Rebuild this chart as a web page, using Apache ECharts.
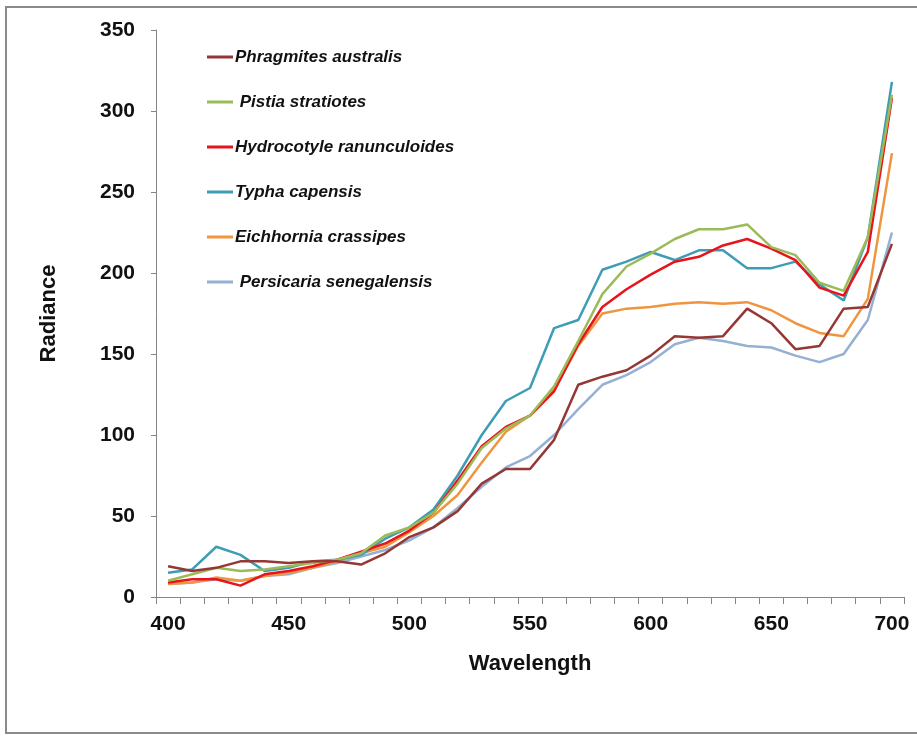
<!DOCTYPE html>
<html>
<head>
<meta charset="utf-8">
<script src="https://cdn.jsdelivr.net/npm/echarts@6/dist/echarts.min.js"></script>
<style>
html,body{margin:0;padding:0;background:#fff;}
#chart{width:917px;height:736px;}
</style>
</head>
<body>
<div id="chart"></div>
<script>
var wavelengths = [400,410,420,430,440,450,460,470,480,490,500,510,520,530,540,550,560,570,580,590,600,610,620,630,640,650,660,670,680,690,700];
var seriesNames = ['Phragmites australis',' Pistia stratiotes','Hydrocotyle ranunculoides','Typha capensis','Eichhornia crassipes',' Persicaria senegalensis'];
var phragmites = [19,16,18,22,22,21,22,22,20,27,37,43,53,70,79,79,97,131,136,140,149,161,160,161,178,169,153,155,178,179,218];
var pistia = [10,14,18,16,17,19,21,23,27,38,43,52,70,92,104,112,130,158,187,204,212,221,227,227,230,216,211,194,189,222,310];
var hydrocotyle = [9,11,11,7,14,16,19,23,28,33,41,52,72,93,105,112,127,156,179,190,199,207,210,217,221,215,208,191,186,213,308];
var typha = [15,17,31,26,16,18,22,23,26,36,43,54,75,100,121,129,166,171,202,207,213,208,214,214,203,203,207,193,183,222,318];
var eichhornia = [8,9,12,10,13,15,18,22,27,31,40,50,63,83,102,112,128,155,175,178,179,181,182,181,182,177,169,163,161,184,274];
var persicaria = [8,9,11,10,13,14,18,21,25,29,35,43,55,68,80,87,100,116,131,137,145,156,160,158,155,154,149,145,150,171,225];
var yTicks = [0,50,100,150,200,250,300,350];

var colors = ['#953735','#9BBB59','#E8131B','#3C9DB4','#F0953F','#95B0D2'];
var allData = [phragmites, pistia, hydrocotyle, typha, eichhornia, persicaria];
var fontFam = "'Liberation Sans Narrow', 'Liberation Sans', Arial, sans-serif";

var chart = echarts.init(document.getElementById('chart'), null, {renderer:'canvas'});
var series = seriesNames.map(function(n, i){
  return {
    name: n, type: 'line', data: allData[i], symbol: 'none',
    lineStyle: {color: colors[i], width: 2.5}, itemStyle: {color: colors[i]},
    z: 10 - i
  };
});
chart.setOption({
  animation: false,
  backgroundColor: '#fff',
  graphic: [{
    type: 'rect', shape: {x: 6, y: 7, width: 930, height: 726},
    style: {fill: 'none', stroke: '#8a8a8a', lineWidth: 2}, z: -1
  }],
  grid: {left: 156, right: 13, top: 30, bottom: 139, containLabel: false},
  legend: {
    orient: 'vertical', left: 202, top: 42,
    itemWidth: 26, itemHeight: 3, itemGap: 25, icon: 'rect',
    textStyle: {fontFamily: fontFam, fontSize: 17, fontStyle: 'italic', fontWeight: 'bold', color: '#111', lineHeight: 20, padding: [0,0,0,-3]},
    data: seriesNames
  },
  xAxis: {
    type: 'category', data: wavelengths, boundaryGap: true,
    name: 'Wavelength', nameLocation: 'middle', nameGap: 56,
    nameTextStyle: {fontFamily: fontFam, fontSize: 22, fontWeight: 'bold', color: '#111'},
    axisLine: {lineStyle: {color: '#868686', width: 1}},
    axisTick: {show: true, interval: 0, length: 7, lineStyle: {color: '#868686'}},
    axisLabel: {interval: 4, fontFamily: fontFam, fontSize: 21, fontWeight: 'bold', color: '#111', margin: 17}
  },
  yAxis: {
    type: 'value', min: yTicks[0], max: yTicks[yTicks.length-1], interval: 50,
    name: 'Radiance', nameLocation: 'middle', nameGap: 96, nameRotate: 90,
    nameTextStyle: {fontFamily: fontFam, fontSize: 22, fontWeight: 'bold', color: '#111'},
    axisLine: {show: true, lineStyle: {color: '#868686', width: 1}},
    axisTick: {show: true, length: 5, lineStyle: {color: '#868686'}},
    splitLine: {show: false},
    axisLabel: {fontFamily: fontFam, fontSize: 21, fontWeight: 'bold', color: '#111', margin: 21}
  },
  series: series
});
</script>
</body>
</html>
